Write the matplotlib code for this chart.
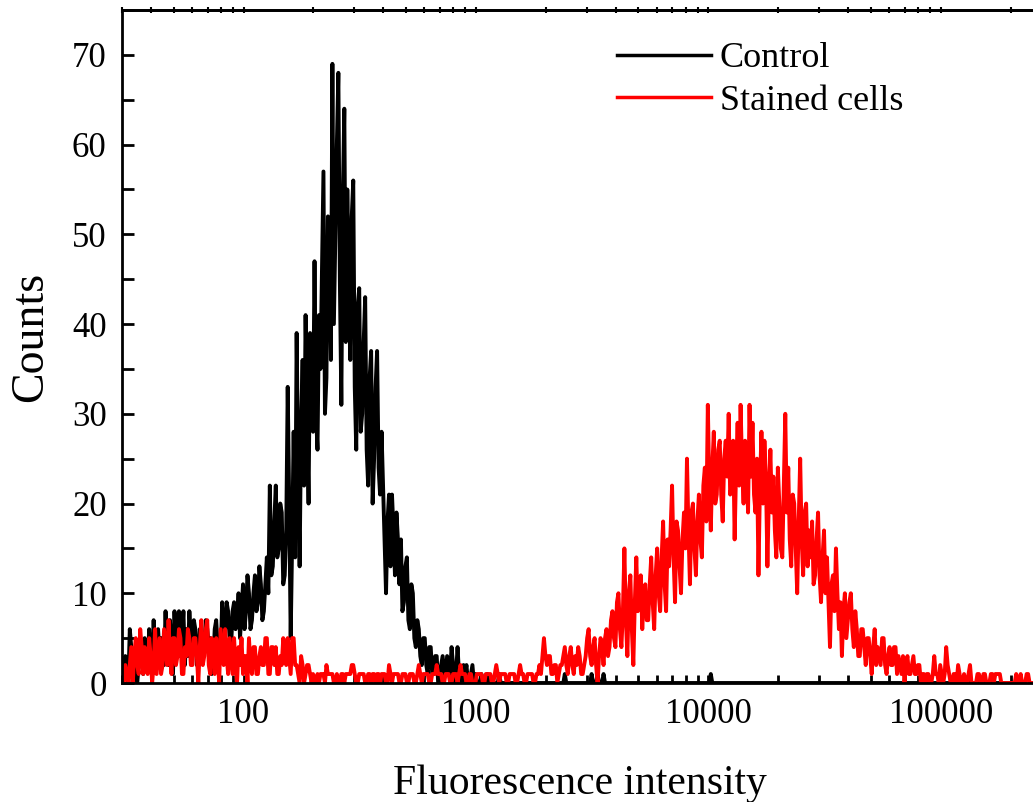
import numpy as np
import matplotlib
matplotlib.use('Agg')
import matplotlib.pyplot as plt
from matplotlib import ticker

# channel grid: 156 channels per decade, first channel at ~30
ch_start = 1.485
ch_per_decade = 156

# counts per channel
control = [
    1, 3, 2, 0, 6, 4, 3, 2, 1, 0, 2, 5, 4, 1, 5, 3, 2, 6, 3, 1, 7, 2,
    4, 6, 3, 5, 5, 2, 8, 3, 2, 7, 4, 1, 8, 4, 5, 8, 3, 5, 8, 2, 6, 3, 8, 5, 4, 7,
    6, 2, 3, 6, 5, 3, 4, 7, 6, 4, 5, 1, 2, 6, 7, 4, 5, 3, 9, 5,
    6, 9, 8, 5, 4, 8, 9, 6, 7, 10, 5, 8, 11, 6,
    8, 12, 10, 6, 7, 10, 12, 8, 9, 13, 11, 7, 8, 11, 14, 10,
    22, 12, 13, 18, 22, 14, 15, 20, 19, 11, 12, 17, 33, 20, 5, 16, 28, 14,
    39, 24, 13, 29, 36, 22, 41, 30, 20, 39, 35, 28, 47, 30, 26, 41, 35, 46, 57, 30, 34, 52, 49, 36,
    69, 40, 50, 60, 68, 45, 31, 54, 64, 38, 55, 46, 36, 52, 56, 33, 26, 42, 44, 28,
    30, 38, 43, 26, 22, 34, 37, 20, 25, 33, 37, 24, 21, 28, 22, 16, 10, 18, 21, 13, 21, 17, 12, 19, 16, 11,
    16, 8, 9, 13, 14, 7, 6, 11, 10, 5, 4, 7, 6, 3, 2, 5, 5, 2, 1, 4, 4, 1, 2, 3, 3, 0, 1, 2,
    3, 1, 1, 3, 2, 1, 4, 2, 0, 1, 4, 1, 1, 0, 2, 1, 2, 0, 0, 1, 2, 0, 1, 0, 0, 0, 1, 0,
    0, 0, 1, 0, 0, 0, 0, 0, 0, 0, 1, 0, 0, 0, 0, 0, 0, 0, 0, 0,
    0, 0, 0, 0, 0, 0, 0, 0, 0, 0, 0, 0, 0, 0, 0, 0, 0, 0, 0, 0,
    0, 0, 0, 0, 0, 0, 0, 0, 0, 0, 0, 0, 0, 0, 1, 0, 0, 0, 0, 0,
    0, 0, 0, 0, 0, 0, 0, 0, 0, 0, 0, 0, 1, 0, 0, 0, 1, 0, 0, 0,
    1, 0, 0, 0, 0, 0, 0, 0, 0, 0, 0, 0, 0, 0, 0, 0, 0, 0, 0, 0,
    0, 0, 0, 0, 0, 0, 0, 0, 0, 0, 0, 0, 0, 0, 0, 0, 0, 0, 0, 0,
    0, 0, 0, 0, 0, 0, 0, 0, 0, 0, 0, 0, 0, 0, 0, 0, 0, 0, 0, 0,
    0, 0, 0, 0, 0, 0, 0, 0, 0, 0, 0, 0, 1, 0, 0, 0, 0, 0, 0, 0,
    0, 0, 0, 0, 0, 0, 0, 0, 0, 0, 0, 0, 0, 0, 0, 0, 0, 0, 0, 0,
    0, 0, 0, 0, 0, 0, 0, 0, 0, 0, 0, 0, 0, 0, 0, 0, 0, 0, 0, 0,
    0, 0, 0, 0, 0, 0, 0, 0, 0, 0, 0, 0, 0, 0, 0, 0, 0, 0, 0, 0,
    0, 0, 0, 0, 0, 0, 0, 0, 0, 0, 0, 0, 0, 0, 0, 0, 0, 0, 0, 0,
    0, 0, 0, 0, 0, 0, 0, 0, 0, 0, 0, 0, 0, 0, 0, 0, 0, 0, 0, 0,
    0, 0, 0, 0, 0, 0, 0, 0, 0, 0, 0, 0, 0, 0, 0, 0, 0, 0, 0, 0,
    0, 0, 0, 0, 0, 0, 0, 0, 0, 0, 0, 0, 0, 0, 0, 0, 0, 0, 0, 0,
    0, 0, 0, 0, 0, 0, 0, 0, 0, 0, 0, 0, 0, 0, 0, 0, 0, 0, 0, 0,
    0, 0, 0, 0, 0, 0, 0, 0, 0, 0, 0, 0, 0, 0, 0, 0, 0, 0, 0, 0,
    0, 0, 0, 0, 0, 0, 0, 0, 0, 0, 0, 0, 0, 0,
]

stained = [
    0, 2, 1, 0, 2, 4, 0, 3, 5, 2, 1, 6, 4, 1, 4, 2, 1, 5, 3, 0,
    2, 6, 1, 3, 5, 1, 2, 6, 4, 2, 7, 3, 1, 5, 5, 2, 3, 6, 5, 1,
    1, 4, 3, 6, 5, 2, 2, 5, 5, 3, 0, 4, 7, 2, 3, 6, 7, 2, 1, 5,
    4, 1, 5, 3, 0, 6, 4, 2, 6, 3, 1, 5, 3, 1, 5, 2, 0, 4, 2, 5,
    1, 3, 3, 0, 5, 2, 1, 4, 4, 1, 1, 3, 4, 2, 2, 5, 5, 1, 1, 4,
    4, 2, 4, 1, 1, 3, 2, 5, 4, 2, 5, 3, 1, 5, 5, 2, 2, 1, 0, 3,
    2, 0, 1, 2, 2, 1, 0, 1, 0, 0, 1, 0, 1, 1, 1, 0, 2, 1, 1, 1, 1, 0, 0, 1,
    0, 0, 1, 1, 0, 1, 1, 1, 1, 2, 2, 1, 0, 0, 1, 1, 1, 1, 0, 0, 1, 1, 0, 1, 1, 0, 1, 1,
    0, 1, 1, 1, 0, 0, 2, 1, 0, 1, 1, 1, 1, 0, 0, 1, 1, 1, 0, 0, 1, 1, 1, 0, 0, 1, 2, 1,
    0, 1, 1, 1, 1, 0, 0, 1, 1, 1, 2, 1, 1, 1, 0, 0, 1, 1, 1, 0, 0, 1, 1, 1, 0, 1, 2, 1,
    1, 1, 0, 0, 1, 1, 0, 0, 0, 1, 1, 1, 1, 0, 0, 1, 1, 1, 1, 0, 0, 1, 2, 1, 0, 1, 1, 1,
    1, 0, 0, 1, 1, 1, 1, 0, 0, 1, 2, 1, 1, 0, 0, 1, 1, 1, 1, 0, 0, 1, 1, 2, 1, 3,
    5, 3, 2, 3, 3, 1, 1, 2, 2, 0, 1, 2, 2, 3, 4, 2, 1, 3, 4, 2, 1, 3, 2, 4, 3, 1, 1, 2, 3, 5,
    6, 3, 2, 4, 5, 2, 0, 3, 5, 4, 2, 5, 6, 3, 4, 7, 8, 5, 4, 9,
    10, 6, 4, 8, 15, 7, 3, 10, 12, 6, 2, 9, 14, 8, 9, 12, 6, 10, 11, 7,
    7, 11, 14, 9, 6, 12, 15, 10, 8, 14, 18, 11, 8, 16, 13, 17, 22, 14, 9, 18,
    17, 13, 10, 16, 19, 15, 25, 17, 11, 19, 20, 15, 12, 18, 21, 16, 14, 22, 24, 18,
    31, 22, 17, 24, 28, 20, 21, 26, 27, 21, 18, 25, 27, 23, 30, 21, 22, 27, 16, 24,
    29, 22, 31, 24, 20, 27, 25, 19, 31, 23, 29, 21, 19, 25, 12, 22, 28, 20, 27, 23,
    13, 21, 26, 19, 23, 17, 14, 24, 20, 15, 14, 22, 30, 19, 24, 16, 13, 21, 20, 15,
    10, 18, 25, 16, 12, 19, 20, 13, 17, 14, 18, 11, 12, 16, 19, 12, 9, 14, 17, 10,
    14, 9, 4, 11, 12, 8, 15, 10, 6, 9, 3, 8, 10, 5, 7, 9, 10, 6, 4, 8,
    6, 3, 3, 6, 6, 4, 2, 5, 5, 3, 1, 4, 6, 2, 4, 3, 2, 5, 5, 2,
    1, 3, 4, 2, 2, 4, 4, 1, 3, 2, 1, 3, 0, 2, 3, 1, 1, 2, 3, 1,
    1, 2, 2, 0, 1, 1, 0, 1, 1, 0, 0, 1, 3, 1, 1, 0, 2, 1, 0, 1,
    4, 2, 1, 0, 0, 1, 1, 0, 2, 1, 0, 0, 1, 0, 0, 1, 2, 0, 0, 0,
    0, 1, 1, 0, 0, 1, 1, 0, 0, 0, 1, 1, 0, 1, 1, 1, 1, 0, 0, 0,
    0, 0, 0, 0, 0, 0, 0, 1, 0, 0, 1, 0, 0, 0, 1, 1, 0, 0, 0, 0,
    1, 0, 0, 0, 0, 0, 0, 0, 0, 0, 0, 0, 0, 0, 0, 0,
]

x_major = [100, 1000, 10000, 100000]
y_major = [0, 10, 20, 30, 40, 50, 60, 70]

plt.rcParams['font.family'] = ['Liberation Serif', 'DejaVu Serif']

fig = plt.figure(figsize=(10.33, 8.02), dpi=100)
ax = fig.add_axes([122 / 1033, 119 / 802, (1038 - 122) / 1033, 673 / 802])

x_c = 10 ** (ch_start + np.arange(len(control)) / ch_per_decade)
x_s = 10 ** (ch_start + np.arange(len(stained)) / ch_per_decade)
ax.plot(x_c, control, color='black', lw=2.8, label='Control')
ax.plot(x_s, stained, color='#ff0000', lw=2.8, label='Stained cells')

ax.set_xscale('log')
ax.set_xlim(30, 262144)
ax.set_ylim(0, 75)

ax.xaxis.set_major_locator(ticker.FixedLocator(x_major))
ax.xaxis.set_major_formatter(ticker.FuncFormatter(lambda v, p: f'{v:.0f}'))
ax.xaxis.set_minor_locator(ticker.LogLocator(base=10, subs=range(2, 10), numticks=20))
ax.xaxis.set_minor_formatter(ticker.NullFormatter())
ax.yaxis.set_major_locator(ticker.FixedLocator(y_major))
ax.yaxis.set_minor_locator(ticker.MultipleLocator(5))

for s in ax.spines.values():
    s.set_linewidth(2.0)

ax.tick_params(axis='both', which='both', direction='in', width=2, labelsize=25)
ax.tick_params(axis='x', which='both', length=6, pad=11, top=False)
ax.tick_params(axis='y', which='both', length=8.5, pad=11)

# short ticks along the top edge
top = ax.secondary_xaxis('top')
top.xaxis.set_major_locator(ticker.FixedLocator(x_major))
top.xaxis.set_minor_locator(ticker.LogLocator(base=10, subs=range(2, 10), numticks=20))
top.xaxis.set_major_formatter(ticker.NullFormatter())
top.xaxis.set_minor_formatter(ticker.NullFormatter())
top.tick_params(which='both', direction='inout', length=4, width=1.5)
top.spines['top'].set_linewidth(2.0)

ax.set_xlabel('Fluorescence intensity', fontsize=30, labelpad=24)
ax.set_ylabel('Counts', fontsize=33)
ax.yaxis.set_label_coords(-0.076, 0.514)

leg = ax.legend(loc='upper left', bbox_to_anchor=(617 / 1033, 1 - 42 / 802),
                bbox_transform=fig.transFigure, frameon=False, fontsize=26,
                borderpad=0, borderaxespad=0, handlelength=2.6,
                handletextpad=0.25, labelspacing=0.25)
for line in leg.get_lines():
    line.set_linewidth(2.5)

fig.savefig('out.png', dpi=100)
